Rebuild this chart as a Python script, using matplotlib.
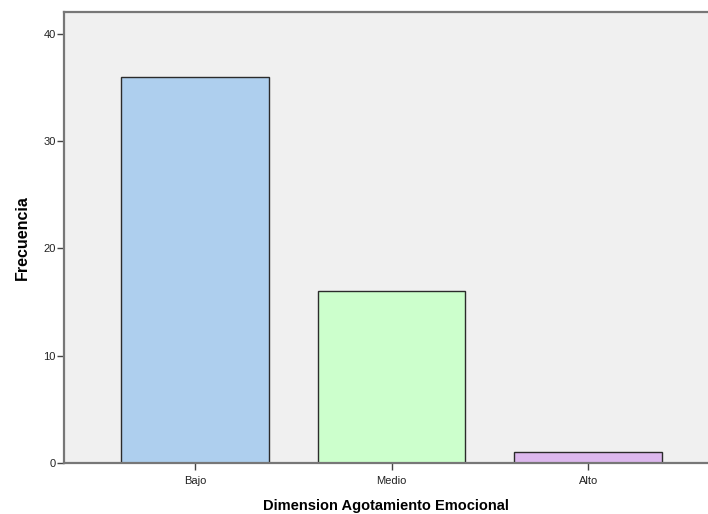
import matplotlib
matplotlib.use("Agg")
import matplotlib.pyplot as plt

categories = ["Bajo", "Medio", "Alto"]
values = [36, 16, 1]
colors = ["#AECFEE", "#CCFFCC", "#DDB8EE"]
yticks = [0, 10, 20, 30, 40]

plt.rcParams['font.family'] = ['Liberation Sans', 'DejaVu Sans']

fig = plt.figure(figsize=(7.08, 5.14), dpi=100)
ax = fig.add_axes([64/708, 51/514, 644/708, 451/514])
ax.set_facecolor("#F0F0F0")
x = list(range(len(categories)))
ax.bar(x, values, width=0.75, color=colors, edgecolor="#2B2B2B", linewidth=1.0, zorder=2)
ax.set_xlim(-0.667, 2.61)
ax.set_ylim(0, 42.05)
ax.set_xticks(x)
ax.set_xticklabels(categories, fontsize=8)
ax.set_yticks(yticks)
ax.set_yticklabels([str(t) for t in yticks], fontsize=8)
for s in ["left", "bottom", "top"]:
    ax.spines[s].set_color("#777777")
    ax.spines[s].set_linewidth(1.6)
ax.spines["right"].set_visible(False)
ax.tick_params(axis="x", color="#444444", length=5, width=1, labelcolor="#222222", pad=4)
ax.tick_params(axis="y", color="#444444", length=5, width=1, labelcolor="#222222", pad=1)
ax.set_xlabel("Dimension Agotamiento Emocional", fontsize=10.5, fontweight="bold", labelpad=10)
ax.set_ylabel("Frecuencia", fontsize=11.5, fontweight="bold", labelpad=10)
fig.savefig("out.png", dpi=100)
